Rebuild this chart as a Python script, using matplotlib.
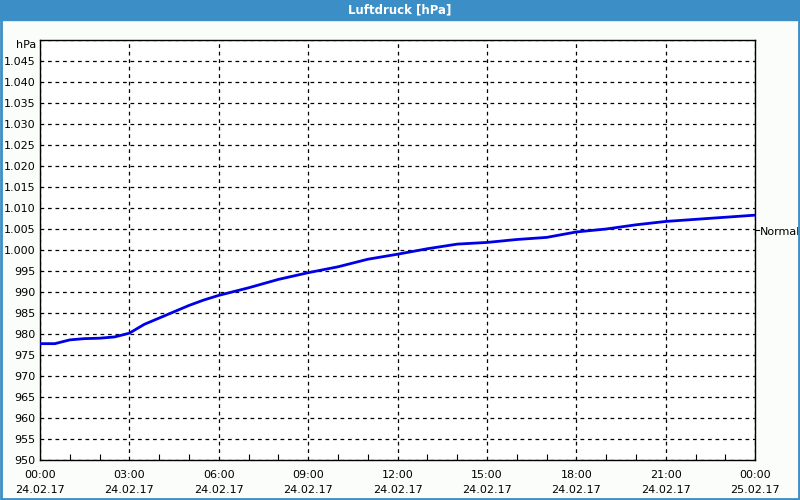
import matplotlib
matplotlib.use('Agg')
import matplotlib.pyplot as plt
from matplotlib.patches import Rectangle
from matplotlib.ticker import MultipleLocator, FuncFormatter
import matplotlib.transforms as mtransforms

plt.rcParams['font.family'] = ['DejaVu Sans']

# Stunden ab 24.02.17 00:00 und Luftdruck [hPa]
hours = [0, 0.5, 1, 1.5, 2, 2.5, 3, 3.5, 4, 4.5, 5, 5.5, 6, 7, 8, 9, 10, 11, 12,
         13, 14, 15, 16, 17, 18, 19, 20, 21, 22, 23, 24]
pressure = [977.7, 977.7, 978.6, 978.9, 979.0, 979.3, 980.2, 982.3, 983.8, 985.3,
            986.8, 988.1, 989.2, 991.0, 993.0, 994.6, 996.0, 997.8, 999.0,
            1000.3, 1001.4, 1001.8, 1002.5, 1003.0, 1004.3, 1005.0, 1006.0,
            1006.8, 1007.3, 1007.8, 1008.3]
tick_hours = [0, 3, 6, 9, 12, 15, 18, 21, 24]
tick_labels = ['00:00\n24.02.17', '03:00\n24.02.17', '06:00\n24.02.17',
               '09:00\n24.02.17', '12:00\n24.02.17', '15:00\n24.02.17',
               '18:00\n24.02.17', '21:00\n24.02.17', '00:00\n25.02.17']
normal_level = 1004.3

BLUE = '#3b8fc6'

fig = plt.figure(figsize=(8, 5), dpi=100, facecolor='#fbfdfb')
# Titelleiste + Rahmen
fig.patches.append(Rectangle((0, 0.96), 1, 0.04, transform=fig.transFigure,
                             color=BLUE, zorder=0))
fig.patches.append(Rectangle((0.001, 0.002), 0.998, 0.96, transform=fig.transFigure,
                             fill=False, edgecolor=BLUE, lw=2, zorder=0))
fig.text(0.5, 0.981, 'Luftdruck [hPa]', color='white', fontsize=8.5,
         fontweight='bold', ha='center', va='center')

ax = fig.add_axes([0.05, 0.08, 0.894, 0.84])
ax.set_facecolor('white')
ax.plot(hours, pressure, color='#0000e6', lw=2, zorder=3)

ax.set_xlim(0, 24)
ax.set_ylim(950, 1050)
ax.set_xticks(tick_hours)
ax.set_xticklabels(tick_labels, fontsize=8, linespacing=1.7)
ax.xaxis.set_minor_locator(MultipleLocator(1))
ax.yaxis.set_major_locator(MultipleLocator(5))

def fmt(v, pos):
    if v >= 1050:
        return ''
    s = f'{int(round(v))}'
    return s[0] + '.' + s[1:] if len(s) > 3 else s

ax.yaxis.set_major_formatter(FuncFormatter(fmt))
ax.tick_params(axis='y', labelsize=8, length=0, pad=3)
ax.tick_params(axis='x', which='major', length=0, pad=7)
ax.tick_params(axis='x', which='minor', direction='in', length=4, width=0.8)
ax.text(-0.005, 1048.9, 'hPa', fontsize=8, ha='right', va='center',
        transform=mtransforms.blended_transform_factory(ax.transAxes, ax.transData))

ax.grid(True, which='major', color='black', linestyle=(0, (3, 3)), lw=0.9)
for s in ax.spines.values():
    s.set_color('black')
    s.set_linewidth(1)

trans = mtransforms.blended_transform_factory(ax.transAxes, ax.transData)
ax.plot([1.0, 1.005], [normal_level + 0.5, normal_level + 0.5], color='black', lw=0.8,
        transform=trans, clip_on=False)
ax.text(1.007, normal_level, 'Normal', fontsize=8, va='center', ha='left',
        transform=trans)

fig.savefig('out.png', dpi=100, facecolor=fig.get_facecolor())
